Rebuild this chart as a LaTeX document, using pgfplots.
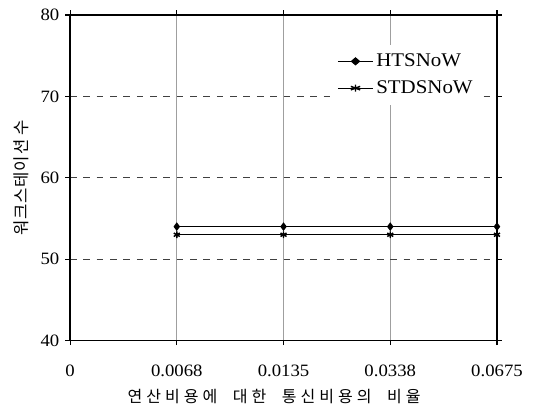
\documentclass[border=0pt]{standalone}
\usepackage{fontspec}
\setmainfont{Liberation Serif}[FakeStretch=1.08]
\newfontfamily\krx{Noto Sans CJK KR}[LetterSpace=25]
\newfontfamily\kry{Noto Sans CJK KR}[LetterSpace=5]
\usepackage{pgfplots}
\pgfplotsset{compat=1.18}

\begin{document}
\begin{tikzpicture}[x=1pt,y=1pt]
\begin{axis}[
    name=ax,
    scale only axis,
    width=320pt, height=244pt,
    xmin=0, xmax=4,
    ymin=40, ymax=80,
    xtick={0,1,2,3,4},
    xticklabels={0,0.0068,0.0135,0.0338,0.0675},
    ytick={40,50,60,70,80},
    axis line style={line width=1.2pt},
    tick style={black, line width=0.8pt},
    tick align=outside,
    major tick length=3.5pt,
    xmajorgrids=true,
    ymajorgrids=true,
    x grid style={gray!75, line width=0.6pt},
    y grid style={black!75, dash pattern=on 5pt off 5pt, line width=0.5pt},
    ylabel={\kry\fontsize{12.5}{14}\selectfont 워크스테이션 수},
    xlabel={\krx\fontsize{12}{14}\selectfont 연산비용에\hspace{6pt} 대한\hspace{6pt} 통신비용의\hspace{6pt} 비율},
    tick label style={font=\fontsize{13}{15}\selectfont},
    /pgf/number format/assume math mode=true,
    xticklabel style={yshift=-11pt},
    yticklabel style={xshift=-1pt},
    xlabel style={yshift=-3pt, xshift=-7pt},
    ylabel style={at={(axis description cs:-0.115,0.5)}, anchor=center},
    legend style={at={(0.616,0.91)}, anchor=north west, draw=none, fill=white,
                  font=\fontsize{14.5}{16}\selectfont, row sep=5pt,
                  inner xsep=3pt, inner ysep=5pt},
    legend cell align={left},
    legend image post style={xscale=1.55},
]
\addplot[black, line width=0.8pt, mark=diamond*, mark size=2.6pt] coordinates {
  (1,54) (2,54) (3,54) (4,54)
};
\addlegendentry{HTSNoW}
\addplot[black, line width=0.8pt, mark=asterisk, mark size=2.6pt,
         mark options={line width=1.1pt}] coordinates {
  (1,53) (2,53) (3,53) (4,53)
};
\addlegendentry{STDSNoW}
\end{axis}
\pgfresetboundingbox
\path ([shift={(-52.5pt,-54.75pt)}]ax.south west) rectangle ([shift={(29.25pt,11.25pt)}]ax.north east);
\end{tikzpicture}
\end{document}
